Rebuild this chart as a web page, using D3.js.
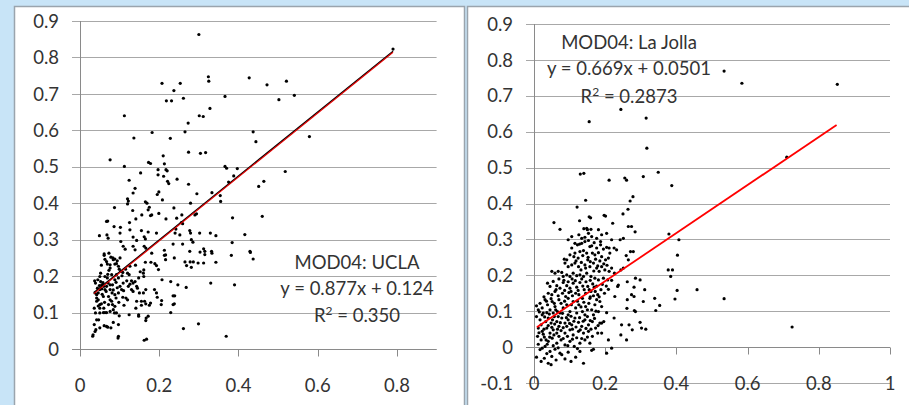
<!DOCTYPE html>
<html>
<head>
<meta charset="utf-8">
<script src="https://cdn.jsdelivr.net/npm/d3@7"></script>
<style>
  body { margin: 0; background: #fff; }
  svg { display: block; font-family: Lato, "Open Sans", sans-serif; }
</style>
</head>
<body>
<div id="chart"></div>
<script>
// datos (AOD MODIS vs sitio)
const yTicksUcla = [0, 0.1, 0.2, 0.3, 0.4, 0.5, 0.6, 0.7, 0.8, 0.9]
const xTicksUcla = [0, 0.2, 0.4, 0.6, 0.8]
const yTicksJolla = [-0.1, 0, 0.1, 0.2, 0.3, 0.4, 0.5, 0.6, 0.7, 0.8, 0.9]
const xTicksJolla = [0, 0.2, 0.4, 0.6, 0.8, 1]

const labelsUcla = ["MOD04: UCLA", "y = 0.877x + 0.124", "0.350"]
const labelsJolla = ["MOD04: La Jolla", "y = 0.669x + 0.0501", "0.2873"]

// recta de ajuste: [pendiente, ordenada, xmin, xmax]
const fitUcla = [0.877, 0.124, 0.035, 0.79]
const fitJolla = [0.669, 0.0501, 0.008, 0.85]

const uclaPoints = [
[0.300,0.863],[0.790,0.823],[0.324,0.747],[0.325,0.735],[0.207,0.729],[0.253,0.729],[0.427,0.744],[0.472,0.725],[0.521,0.735],[0.541,0.696],
[0.502,0.684],[0.237,0.709],[0.218,0.681],[0.231,0.681],[0.261,0.688],[0.366,0.693],[0.328,0.660],[0.112,0.640],[0.301,0.640],[0.311,0.638],
[0.579,0.583],[0.437,0.596],[0.444,0.569],[0.273,0.620],[0.265,0.596],[0.136,0.579],[0.228,0.578],[0.182,0.594],[0.112,0.501],[0.076,0.519],
[0.274,0.540],[0.304,0.537],[0.317,0.539],[0.173,0.512],[0.178,0.509],[0.210,0.530],[0.197,0.492],[0.213,0.508],[0.217,0.492],[0.220,0.489],
[0.221,0.460],[0.224,0.454],[0.245,0.466],[0.211,0.474],[0.197,0.478],[0.153,0.483],[0.366,0.501],[0.370,0.496],[0.397,0.495],[0.388,0.475],
[0.375,0.458],[0.518,0.487],[0.451,0.446],[0.464,0.460],[0.460,0.364],[0.385,0.360],[0.124,0.463],[0.274,0.452],[0.139,0.441],[0.134,0.428],
[0.195,0.424],[0.199,0.431],[0.120,0.412],[0.122,0.406],[0.120,0.398],[0.165,0.404],[0.169,0.400],[0.175,0.389],[0.172,0.382],[0.208,0.409],
[0.237,0.387],[0.333,0.429],[0.295,0.426],[0.354,0.421],[0.355,0.405],[0.279,0.400],[0.087,0.388],[0.133,0.380],[0.141,0.357],[0.125,0.347],
[0.156,0.368],[0.178,0.366],[0.181,0.368],[0.199,0.372],[0.217,0.357],[0.244,0.359],[0.257,0.368],[0.290,0.368],[0.256,0.347],[0.259,0.344],
[0.067,0.350],[0.070,0.351],[0.086,0.336],[0.102,0.334],[0.049,0.311],[0.068,0.313],[0.071,0.304],[0.101,0.318],[0.126,0.327],[0.155,0.325],
[0.162,0.308],[0.165,0.302],[0.162,0.282],[0.166,0.277],[0.172,0.321],[0.193,0.318],[0.134,0.307],[0.143,0.298],[0.242,0.329],[0.240,0.318],
[0.252,0.313],[0.277,0.325],[0.279,0.318],[0.281,0.300],[0.285,0.293],[0.302,0.318],[0.329,0.318],[0.343,0.311],[0.416,0.314],[0.384,0.292],
[0.294,0.371],[0.235,0.288],[0.259,0.288],[0.103,0.295],[0.109,0.282],[0.114,0.274],[0.134,0.282],[0.139,0.272],[0.213,0.271],[0.213,0.257],
[0.216,0.258],[0.216,0.245],[0.238,0.250],[0.277,0.268],[0.312,0.275],[0.315,0.268],[0.315,0.259],[0.332,0.268],[0.333,0.263],[0.303,0.266],
[0.265,0.239],[0.269,0.229],[0.278,0.239],[0.281,0.224],[0.286,0.239],[0.298,0.236],[0.312,0.236],[0.343,0.238],[0.382,0.257],[0.429,0.268],
[0.430,0.265],[0.437,0.247],[0.330,0.181],[0.390,0.176],[0.268,0.169],[0.247,0.176],[0.229,0.185],[0.207,0.190],[0.198,0.218],[0.193,0.229],
[0.189,0.234],[0.179,0.238],[0.181,0.263],[0.161,0.217],[0.165,0.238],[0.235,0.146],[0.239,0.146],[0.238,0.124],[0.235,0.122],[0.205,0.122],
[0.206,0.133],[0.188,0.163],[0.193,0.154],[0.195,0.142],[0.178,0.126],[0.175,0.120],[0.229,0.100],[0.166,0.163],[0.160,0.154],[0.163,0.131],
[0.166,0.124],[0.166,0.078],[0.167,0.085],[0.162,0.024],[0.168,0.027],[0.261,0.056],[0.299,0.069],[0.369,0.035],[0.172,0.090],[0.148,0.090],
[0.148,0.094],[0.155,0.131],[0.155,0.120],[0.143,0.131],[0.141,0.112],[0.124,0.094],[0.111,0.120],[0.097,0.035],[0.096,0.030],[0.097,0.067],
[0.099,0.091],[0.084,0.073],[0.078,0.058],[0.070,0.060],[0.067,0.062],[0.061,0.064],[0.050,0.058],[0.038,0.048],[0.040,0.053],[0.033,0.039],
[0.032,0.035],[0.036,0.067],[0.042,0.080],[0.047,0.080],[0.050,0.099],[0.059,0.100],[0.063,0.100],[0.067,0.100],[0.076,0.103],[0.084,0.108],
[0.087,0.099],[0.092,0.099],[0.082,0.122],[0.088,0.117],[0.042,0.131],[0.046,0.135],[0.042,0.140],[0.050,0.122],[0.054,0.124],[0.038,0.154],
[0.042,0.149],[0.046,0.154],[0.050,0.163],[0.055,0.165],[0.037,0.187],[0.039,0.181],[0.044,0.167],[0.049,0.174],[0.060,0.172],[0.067,0.172],
[0.071,0.181],[0.076,0.176],[0.063,0.163],[0.066,0.158],[0.076,0.163],[0.081,0.154],[0.088,0.149],[0.091,0.140],[0.076,0.135],[0.080,0.131],
[0.062,0.128],[0.059,0.144],[0.052,0.208],[0.050,0.199],[0.063,0.199],[0.069,0.195],[0.073,0.216],[0.076,0.222],[0.080,0.204],[0.088,0.233],
[0.092,0.234],[0.084,0.245],[0.088,0.247],[0.067,0.240],[0.063,0.246],[0.069,0.233],[0.061,0.257],[0.061,0.261],[0.073,0.263],[0.083,0.250],
[0.076,0.231],[0.097,0.227],[0.101,0.250],[0.099,0.219],[0.103,0.213],[0.106,0.201],[0.115,0.219],[0.120,0.208],[0.124,0.204],[0.126,0.227],
[0.130,0.187],[0.118,0.187],[0.109,0.181],[0.122,0.172],[0.130,0.163],[0.134,0.158],[0.101,0.172],[0.105,0.163],[0.097,0.154],[0.108,0.142],
[0.116,0.140],[0.120,0.135],[0.134,0.181],[0.139,0.185],[0.143,0.172],[0.145,0.167],[0.150,0.154],[0.148,0.195],[0.161,0.199],[0.160,0.208],
[0.088,0.190],[0.091,0.183],[0.092,0.204],[0.097,0.195],[0.052,0.185],[0.055,0.176],[0.036,0.112],[0.039,0.099],[0.050,0.112],
[0.045,0.190],[0.058,0.182],[0.070,0.205],[0.082,0.176],[0.094,0.168],[0.056,0.150],[0.072,0.144],[0.084,0.162],[0.046,0.118],[0.060,0.112],
[0.072,0.122],[0.098,0.128],[0.110,0.160],[0.126,0.178],[0.054,0.230],[0.078,0.252],[0.094,0.242],[0.108,0.210],[0.140,0.230],[0.152,0.212]
]

const jollaPoints = [
[0.534,0.769],[0.584,0.735],[0.852,0.732],[0.244,0.662],[0.315,0.638],[0.155,0.628],[0.317,0.554],[0.130,0.482],[0.140,0.484],[0.211,0.465],
[0.255,0.471],[0.260,0.465],[0.307,0.475],[0.349,0.487],[0.387,0.450],[0.710,0.529],[0.145,0.409],[0.278,0.419],[0.270,0.407],[0.121,0.390],
[0.197,0.367],[0.201,0.365],[0.250,0.371],[0.128,0.352],[0.155,0.363],[0.159,0.360],[0.221,0.345],[0.264,0.384],[0.265,0.336],[0.274,0.336],
[0.056,0.347],[0.073,0.328],[0.140,0.330],[0.150,0.327],[0.160,0.328],[0.284,0.321],[0.379,0.315],[0.407,0.299],[0.403,0.256],[0.377,0.215],
[0.389,0.215],[0.384,0.197],[0.458,0.160],[0.534,0.135],[0.402,0.158],[0.396,0.134],[0.342,0.102],[0.353,0.116],[0.339,0.136],[0.725,0.056],
[0.307,0.127],[0.311,0.160],[0.298,0.187],[0.285,0.192],[0.281,0.167],[0.282,0.102],[0.285,0.099],[0.298,0.069],[0.302,0.053],[0.314,0.050],
[0.281,0.141],[0.274,0.146],[0.262,0.132],[0.261,0.108],[0.246,0.062],[0.260,0.020],[0.267,0.062],[0.276,0.048],[0.244,0.034],[0.225,0.081],
[0.218,-0.003],[0.204,-0.017],[0.209,0.020],[0.204,0.096],[0.196,0.071],[0.190,0.067],[0.235,0.169],[0.237,0.173],[0.227,0.141],[0.244,0.215],
[0.251,0.220],[0.259,0.255],[0.265,0.243],[0.242,0.299],[0.251,0.303],[0.218,0.299],[0.225,0.276],[0.232,0.271],[0.213,0.262],[0.209,0.248],
[0.271,0.266],[0.279,0.266],[0.262,0.182],
[0.126,0.313],[0.134,0.303],[0.143,0.306],[0.153,0.317],[0.162,0.308],[0.148,0.331],[0.176,0.303],[0.190,0.313],[0.204,0.317],[0.181,0.327],
[0.187,0.294],[0.106,0.308],[0.096,0.299],[0.115,0.289],
[0.122,0.285],[0.128,0.287],[0.134,0.289],[0.143,0.294],[0.153,0.297],[0.157,0.280],[0.162,0.282],[0.169,0.291],[0.176,0.276],[0.187,0.285],
[0.195,0.273],[0.204,0.278],[0.211,0.276],[0.129,0.266],[0.139,0.269],[0.148,0.262],[0.164,0.262],[0.171,0.257],[0.181,0.263],[0.190,0.252],
[0.201,0.243],[0.115,0.262],[0.106,0.276],[0.101,0.257],[0.092,0.243],[0.085,0.245],
[0.087,0.234],[0.096,0.224],[0.106,0.229],[0.115,0.234],[0.125,0.224],[0.132,0.215],[0.143,0.229],[0.151,0.243],[0.157,0.224],[0.167,0.234],
[0.176,0.220],[0.183,0.211],[0.190,0.224],[0.199,0.215],[0.211,0.211],[0.218,0.220],[0.226,0.206],[0.050,0.211],[0.059,0.206],[0.068,0.211],
[0.078,0.208],[0.082,0.197],[0.092,0.201],[0.101,0.197],[0.110,0.206],[0.120,0.199],[0.129,0.201],[0.139,0.197],[0.148,0.206],[0.160,0.197],
[0.171,0.192],[0.181,0.187],[0.195,0.192],[0.207,0.187],[0.218,0.186],
[0.038,0.178],[0.045,0.169],[0.054,0.183],[0.064,0.171],[0.073,0.164],[0.082,0.180],[0.092,0.171],[0.101,0.164],[0.110,0.178],[0.120,0.167],
[0.129,0.180],[0.141,0.160],[0.151,0.169],[0.160,0.155],[0.169,0.167],[0.179,0.146],[0.188,0.160],[0.198,0.150],[0.209,0.161],[0.040,0.150],
[0.050,0.146],[0.059,0.155],[0.068,0.143],[0.080,0.150],[0.089,0.141],[0.098,0.152],[0.108,0.143],[0.117,0.150],[0.126,0.146],[0.136,0.136],
[0.145,0.150],[0.157,0.136],[0.167,0.143],[0.176,0.132],[0.185,0.127],
[0.017,0.122],[0.023,0.109],[0.031,0.132],[0.038,0.118],[0.045,0.104],[0.051,0.127],[0.059,0.113],[0.066,0.099],[0.076,0.122],[0.082,0.109],
[0.092,0.118],[0.101,0.099],[0.110,0.127],[0.117,0.109],[0.126,0.118],[0.136,0.099],[0.145,0.113],[0.154,0.122],[0.162,0.104],[0.171,0.118],
[0.181,0.099],[0.190,0.113],[0.012,0.104],[0.026,0.095],[0.007,0.115],[0.036,0.096],[0.054,0.095],[0.073,0.095],[0.096,0.090],[0.120,0.095],
[0.143,0.090],[0.167,0.090],
[0.007,0.085],[0.017,0.076],[0.023,0.090],[0.033,0.071],[0.040,0.081],[0.048,0.067],[0.057,0.085],[0.064,0.071],[0.070,0.058],[0.078,0.081],
[0.087,0.067],[0.096,0.076],[0.106,0.062],[0.115,0.081],[0.125,0.069],[0.134,0.058],[0.143,0.076],[0.153,0.062],[0.164,0.071],[0.173,0.053],
[0.185,0.067],[0.012,0.053],[0.023,0.044],[0.036,0.053],[0.045,0.039],[0.054,0.048],[0.064,0.039],[0.076,0.046],[0.087,0.039],[0.101,0.048],
[0.110,0.034],[0.125,0.044],[0.139,0.039],[0.153,0.044],[0.164,0.030],[0.179,0.039],[0.190,0.039],
[0.010,0.030],[0.020,0.020],[0.029,0.028],[0.040,0.016],[0.051,0.025],[0.064,0.011],[0.076,0.020],[0.087,0.006],[0.101,0.016],[0.113,0.002],
[0.129,0.011],[0.143,0.020],[0.157,0.011],[0.017,-0.007],[0.023,-0.003],[0.031,0.002],[0.045,-0.012],[0.059,-0.006],[0.073,-0.017],[0.007,-0.028],
[0.029,-0.031],[0.050,-0.026],[0.040,-0.045],[0.048,-0.049],[0.078,-0.021],[0.087,-0.033],[0.104,-0.040],[0.117,-0.028],[0.129,-0.012],[0.139,-0.045],
[0.162,-0.009],[0.167,-0.006],
[0.112,0.252],[0.124,0.248],[0.137,0.255],[0.152,0.250],[0.158,0.238],[0.173,0.245],[0.185,0.240],[0.196,0.232],[0.118,0.240],[0.133,0.236],
[0.145,0.220],[0.168,0.212],[0.179,0.226],[0.205,0.228],[0.070,0.190],[0.084,0.186],[0.096,0.182],[0.107,0.190],[0.116,0.185],[0.134,0.190],
[0.146,0.182],[0.158,0.186],[0.165,0.176],[0.176,0.170],[0.192,0.175],[0.203,0.170],[0.062,0.160],[0.086,0.158],[0.104,0.155],[0.124,0.158],
[0.137,0.170],[0.155,0.160],[0.172,0.155],[0.183,0.140],[0.028,0.140],[0.035,0.128],[0.048,0.135],[0.057,0.122],[0.070,0.132],[0.086,0.128],
[0.096,0.136],[0.105,0.118],[0.122,0.128],[0.132,0.112],[0.140,0.125],[0.150,0.104],[0.158,0.140],[0.174,0.100],[0.015,0.098],[0.030,0.084],
[0.043,0.092],[0.052,0.076],[0.061,0.104],[0.068,0.085],[0.080,0.094],[0.091,0.082],[0.104,0.086],[0.112,0.072],[0.128,0.082],[0.138,0.072],
[0.150,0.085],[0.158,0.074],[0.170,0.080],[0.180,0.060],[0.020,0.062],[0.028,0.050],[0.040,0.060],[0.050,0.055],[0.058,0.064],[0.066,0.050],
[0.074,0.068],[0.082,0.054],[0.092,0.058],[0.100,0.066],[0.108,0.050],[0.118,0.056],[0.130,0.048],[0.146,0.052],[0.160,0.050],[0.014,0.040],
[0.026,0.036],[0.034,0.020],[0.044,0.028],[0.056,0.034],[0.070,0.030],[0.082,0.024],[0.094,0.030],[0.108,0.022],[0.120,0.026],[0.134,0.024],
[0.150,0.028],[0.012,0.008],[0.037,0.008],[0.054,0.004],[0.068,-0.002],[0.095,0.004],[0.122,-0.004],[0.036,-0.018],[0.062,-0.036],[0.096,-0.014],
[0.020,-0.040]
]

const ancho = 909
const alto = 405
const colGrid = "#a8a8a8"
const colEje = "#8a8a8a"
const colTexto = "#333"

const svg = d3.select("#chart").append("svg")
  .attr("width", ancho)
  .attr("height", alto)

// marco tipo ventana
svg.append("rect").attr("x", 0).attr("y", 0).attr("width", ancho).attr("height", alto).attr("fill", "#c8e4f7")
svg.append("rect").attr("x", 14.5).attr("y", 6.5).attr("width", 450).attr("height", 420)
  .attr("fill", "#fff").attr("stroke", "#9aa4ad").attr("stroke-width", 1.5)
svg.append("rect").attr("x", 467.5).attr("y", 6.5).attr("width", 460).attr("height", 420)
  .attr("fill", "#fff").attr("stroke", "#9aa4ad").attr("stroke-width", 1.5)

function panel(cfg) {
  const x = d3.scaleLinear().domain(cfg.xDom).range(cfg.xRange)
  const y = d3.scaleLinear().domain(cfg.yDom).range(cfg.yRange)
  const g = svg.append("g")
  const x0 = cfg.xRange[0]
  const x1 = cfg.xRange[1]

  // lineas de cuadricula
  g.selectAll(".grid").data(cfg.yTicks).enter().append("line")
    .attr("x1", x0 - 8).attr("x2", x1)
    .attr("y1", d => Math.round(y(d)) + 0.5).attr("y2", d => Math.round(y(d)) + 0.5)
    .attr("stroke", colGrid).attr("stroke-width", 1)

  // eje vertical
  g.append("line")
    .attr("x1", Math.round(x0) + 0.5).attr("x2", Math.round(x0) + 0.5)
    .attr("y1", y(cfg.yDom[1])).attr("y2", y(cfg.yDom[0]) + (cfg.yDom[0] < 0 ? 0 : 7))
    .attr("stroke", colEje)

  // eje horizontal en y = 0 con marcas hacia abajo
  const y0 = Math.round(y(0)) + 0.5
  g.append("line").attr("x1", x0 - 8).attr("x2", x1).attr("y1", y0).attr("y2", y0).attr("stroke", colEje)
  g.selectAll(".tick").data(cfg.xTicks).enter().append("line")
    .attr("x1", d => Math.round(x(d)) + 0.5).attr("x2", d => Math.round(x(d)) + 0.5)
    .attr("y1", y0).attr("y2", y0 + 7)
    .attr("stroke", colEje)

  // etiquetas
  g.selectAll(".ylab").data(cfg.yTicks).enter().append("text")
    .attr("x", x0 - 21).attr("y", d => y(d)).attr("dy", "0.36em")
    .attr("text-anchor", "end").attr("fill", colTexto)
    .style("font-size", "18.5px")
    .text(d => String(+d.toFixed(1)))
  g.selectAll(".xlab").data(cfg.xTicks).enter().append("text")
    .attr("x", d => x(d)).attr("y", cfg.xLabY).attr("dy", "0.36em")
    .attr("text-anchor", "middle").attr("fill", colTexto)
    .style("font-size", "18.5px")
    .text(d => String(+d.toFixed(1)))

  // puntos
  g.selectAll(".pt").data(cfg.points).enter().append("circle")
    .attr("cx", d => x(d[0])).attr("cy", d => y(d[1]))
    .attr("r", 1.6).attr("fill", "#000")

  // recta de ajuste
  const f = cfg.fit
  const linea = [[f[2], f[0] * f[2] + f[1]], [f[3], f[0] * f[3] + f[1]]]
  const path = d3.line().x(d => x(d[0])).y(d => y(d[1]))
  if (cfg.doble) {
    g.append("path").attr("d", path(linea)).attr("stroke", "#000").attr("stroke-width", 1.3).attr("fill", "none")
    g.append("path").attr("d", path(linea)).attr("transform", "translate(0,1)")
      .attr("stroke", "#e00000").attr("stroke-width", 1.2).attr("fill", "none")
  } else {
    g.append("path").attr("d", path(linea)).attr("stroke", "#ff0000").attr("stroke-width", 1.8).attr("fill", "none")
  }

  // textos de la regresion
  const t = g.append("g").attr("fill", colTexto).style("font-size", "18.5px").attr("text-anchor", "middle")
  t.append("text").attr("x", cfg.txtX).attr("y", cfg.txtY[0]).attr("dy", "0.36em").text(cfg.labels[0])
  t.append("text").attr("x", cfg.txtX).attr("y", cfg.txtY[1]).attr("dy", "0.36em").text(cfg.labels[1])
  const r2 = t.append("text").attr("x", cfg.txtX).attr("y", cfg.txtY[2]).attr("dy", "0.36em")
  r2.append("tspan").text("R")
  r2.append("tspan").attr("dy", -7).style("font-size", "12px").text("2")
  r2.append("tspan").attr("dy", 7).text(" = " + cfg.labels[2])
}

panel({
  xDom: [0, 0.9], xRange: [80, 436.6],
  yDom: [0, 0.9], yRange: [349, 21],
  yTicks: yTicksUcla, xTicks: xTicksUcla, xLabY: 385,
  points: uclaPoints, fit: fitUcla, doble: true,
  labels: labelsUcla, txtX: 357, txtY: [262, 288, 315]
})

panel({
  xDom: [0, 1], xRange: [534, 890],
  yDom: [-0.1, 0.9], yRange: [383, 24],
  yTicks: yTicksJolla, xTicks: xTicksJolla, xLabY: 383,
  points: jollaPoints, fit: fitJolla, doble: false,
  labels: labelsJolla, txtX: 629, txtY: [42, 68, 96]
})
</script>
</body>
</html>
